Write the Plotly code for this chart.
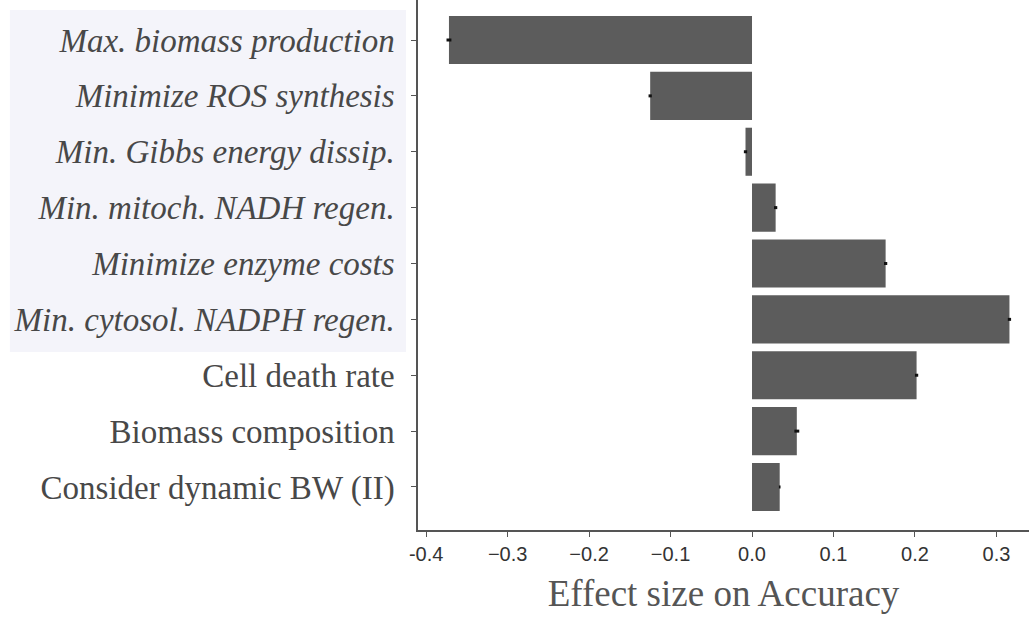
import plotly.graph_objects as go

categories = [
    "Max. biomass production",
    "Minimize ROS synthesis",
    "Min. Gibbs energy dissip.",
    "Min. mitoch. NADH regen.",
    "Minimize enzyme costs",
    "Min. cytosol. NADPH regen.",
    "Cell death rate",
    "Biomass composition",
    "Consider dynamic BW (II)",
]
italic_flags = [True, True, True, True, True, True, False, False, False]
effects = [-0.372, -0.125, -0.008, 0.029, 0.164, 0.316, 0.202, 0.055, 0.034]
errors = [0.003, 0.002, 0.002, 0.002, 0.002, 0.002, 0.002, 0.003, 0.001]
x_ticks = [-0.4, -0.3, -0.2, -0.1, 0.0, 0.1, 0.2, 0.3]
x_ticktext = ["-0.4", "\u22120.3", "\u22120.2", "\u22120.1", "0.0", "0.1", "0.2", "0.3"]

ylabels = [f"<i>{c}</i>" if it else c for c, it in zip(categories, italic_flags)]
ypos = list(range(len(categories)))

fig = go.Figure()
fig.add_trace(go.Bar(
    x=effects, y=ypos, orientation="h",
    marker=dict(color="#5c5c5c", line=dict(width=0)),
    width=0.86,
    error_x=dict(type="data", array=errors, color="#111111", thickness=3, width=0),
))

fig.add_shape(type="rect", xref="paper", yref="paper",
              x0=-0.668, x1=-0.0196, y0=0.336, y1=0.981,
              fillcolor="#f4f4fa", line=dict(width=0), layer="below")

fig.update_layout(
    width=1029, height=619,
    margin=dict(l=418, r=0, t=0, b=89),
    paper_bgcolor="white", plot_bgcolor="white",
    showlegend=False,
    xaxis=dict(
        range=[-0.41, 0.34],
        tickvals=x_ticks, ticktext=x_ticktext,
        ticks="outside", ticklen=5, tickcolor="#555555", tickwidth=1.2,
        showline=True, linecolor="#555555", linewidth=1.5,
        showgrid=False, zeroline=False,
        tickfont=dict(family="Liberation Sans, Arial", size=20, color="#333333"),
        title=dict(text="Effect size on Accuracy", standoff=16,
                   font=dict(family="Liberation Serif, Times New Roman", size=37, color="#555555")),
    ),
    yaxis=dict(
        range=[8.77, -0.716],
        tickvals=ypos, ticktext=ylabels,
        ticks="outside", ticklen=5, tickcolor="#555555", tickwidth=1.2,
        showline=True, linecolor="#555555", linewidth=1.5,
        showgrid=False, zeroline=False,
        ticklabelstandoff=10,
        tickfont=dict(family="Liberation Serif, Times New Roman", size=33, color="#484848"),
    ),
)

fig.write_html("out.html")
